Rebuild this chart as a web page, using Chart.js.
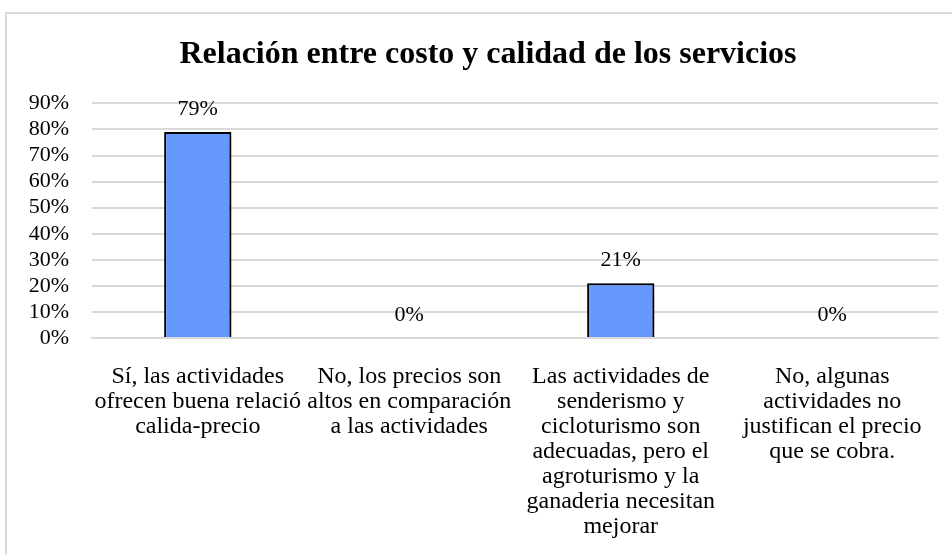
<!DOCTYPE html>
<html>
<head>
<meta charset="utf-8">
<script src="https://cdn.jsdelivr.net/npm/chart.js@4"></script>
<style>
  html, body { margin: 0; padding: 0; background: #fff; }
  #wrap { position: relative; width: 952px; height: 555px; overflow: hidden; }
  #frame { position: absolute; left: 5px; top: 12px; width: 990px; height: 560px; border: 2px solid #d9d9d9; box-sizing: border-box; }
  #chart { position: absolute; left: 0; top: 0; }
</style>
</head>
<body>
<div id="wrap">
  <div id="frame"></div>
  <canvas id="chart" width="952" height="555"></canvas>
</div>
<script>
const chartTitle = 'Relación entre costo y calidad de los servicios';
const categories = [
  ['Sí, las actividades', 'ofrecen buena relació', 'calida-precio'],
  ['No, los precios son', 'altos en comparación', 'a las actividades'],
  ['Las actividades de', 'senderismo y', 'cicloturismo son', 'adecuadas, pero el', 'agroturismo y la', 'ganaderia necesitan', 'mejorar'],
  ['No, algunas', 'actividades no', 'justifican el precio', 'que se cobra.']
];
const percentages = [79, 0, 21, 0];
const yMax = 90;
const yStep = 10;

const serif = '"Liberation Serif", "Times New Roman", serif';

// the original chart is wider than the visible crop, so its title sits right of centre
const titleShift = {
  id: 'titleShift',
  afterLayout(chart) {
    if (chart.titleBlock) chart.titleBlock.left += 38;
  }
};

// soft shadow behind the bars
const barShadow = {
  id: 'barShadow',
  beforeDatasetsDraw(chart) {
    const ctx = chart.ctx;
    ctx.save();
    ctx.shadowColor = 'rgba(0,0,0,0.45)';
    ctx.shadowBlur = 8;
    ctx.shadowOffsetX = 4;
    ctx.shadowOffsetY = 2;
  },
  afterDatasetsDraw(chart) {
    chart.ctx.restore();
  }
};

// value labels above each bar
const valueLabels = {
  id: 'valueLabels',
  afterDatasetsDraw(chart) {
    const ctx = chart.ctx;
    const meta = chart.getDatasetMeta(0);
    ctx.save();
    ctx.font = '22px ' + serif;
    ctx.fillStyle = '#000';
    ctx.textAlign = 'center';
    ctx.textBaseline = 'middle';
    meta.data.forEach((bar, i) => {
      ctx.fillText(percentages[i] + '%', bar.x, bar.y - 23);
    });
    ctx.restore();
  }
};

new Chart(document.getElementById('chart'), {
  type: 'bar',
  data: {
    labels: categories,
    datasets: [{
      data: percentages,
      backgroundColor: '#6699ff',
      borderColor: '#000',
      borderWidth: 2,
      categoryPercentage: 0.318,
      barPercentage: 1
    }]
  },
  options: {
    responsive: false,
    animation: false,
    layout: { padding: { left: 0, right: 14, top: 0, bottom: 0 } },
    plugins: {
      legend: { display: false },
      tooltip: { enabled: false },
      title: {
        display: true,
        text: chartTitle,
        color: '#000',
        font: { family: serif, size: 32, weight: 'bold', lineHeight: 1.2 },
        padding: { top: 36, bottom: 29 }
      }
    },
    scales: {
      x: {
        grid: { display: false, drawTicks: false },
        border: { display: true, color: '#d9d9d9', width: 2 },
        ticks: {
          color: '#000',
          font: { family: serif, size: 24, lineHeight: 1.04 },
          padding: 26,
          maxRotation: 0,
          autoSkip: false
        },
        afterFit(scale) { scale.height = 217; }
      },
      y: {
        min: 0,
        max: yMax,
        border: { display: false },
        grid: { color: '#d9d9d9', lineWidth: 2, drawTicks: false },
        ticks: {
          stepSize: yStep,
          autoSkip: false,
          color: '#000',
          font: { family: serif, size: 22 },
          padding: 23,
          callback: v => v + '%'
        },
        afterFit(scale) { scale.width = 92; }
      }
    }
  },
  plugins: [titleShift, barShadow, valueLabels]
});
</script>
</body>
</html>
